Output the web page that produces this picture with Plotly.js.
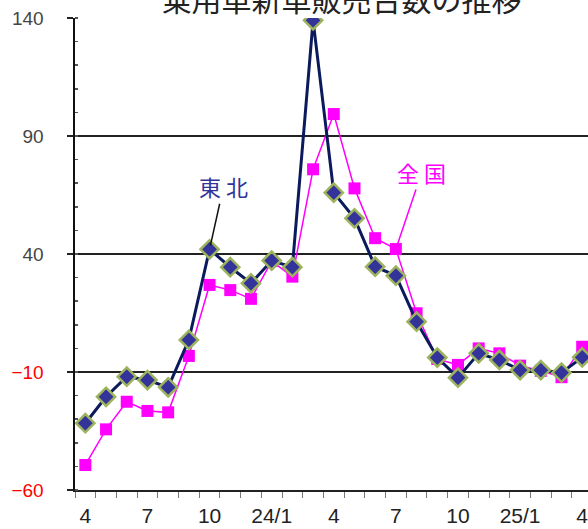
<!DOCTYPE html>
<html>
<head>
<meta charset="utf-8">
<script src="https://cdn.plot.ly/plotly-3.0.1.min.js"></script>
<style>html,body{margin:0;padding:0;overflow:hidden;background:#fff}</style>
</head>
<body>
<div id="chart" style="width:588px;height:529px"></div>
<script>
// Months from 2023/4 to 2025/4 (year-over-year change, %)
const categories = ['23/4','23/5','23/6','23/7','23/8','23/9','23/10','23/11','23/12','24/1','24/2','24/3','24/4','24/5','24/6','24/7','24/8','24/9','24/10','24/11','24/12','25/1','25/2','25/3','25/4'];
const tohoku  = [-31.7, -20.5, -12, -13.4, -16.5, 3.6, 42, 34.4, 27.6, 37.2, 34.4, 139, 66, 55.1, 34.6, 30.8, 11.3, -3.9, -12.4, -2.1, -4.9, -9.2, -9.2, -10.3, -3.8];
const zenkoku = [-49.4, -34.3, -22.6, -26.5, -27.1, -3.2, 26.9, 24.7, 21, 37, 30.4, 75.9, 99.3, 67.8, 46.7, 42.1, 14.9, -4.5, -7, 0, -2.1, -7.3, -9.5, -12.2, 0.7];
const xTickIdx = [0, 3, 6, 9, 12, 15, 18, 21, 24];
const xTickLabels = ['4', '7', '10', '24/1', '4', '7', '10', '25/1', '4'];
const yTickVals = [140, 90, 40, -10, -60];
const yTickLabels = ['140', '90', '40', '<span style="color:#ff0000">−10</span>', '<span style="color:#ff0000">−60</span>'];

const xIdx = categories.map((c, i) => i);

const traces = [
  {
    x: xIdx, y: zenkoku, name: '全国', type: 'scatter', mode: 'lines+markers',
    line: {color: '#ff00ff', width: 1.5},
    marker: {symbol: 'square', size: 12, color: '#ff00ff'},
    text: categories, hoverinfo: 'text+y'
  },
  {
    x: xIdx, y: tohoku, name: '東北', type: 'scatter', mode: 'lines+markers',
    line: {color: '#0a1a5c', width: 3},
    marker: {symbol: 'diamond', size: 14, color: '#333399', line: {color: '#9db35e', width: 2.5}},
    text: categories, hoverinfo: 'text+y'
  }
];

const layout = {
  width: 588, height: 529,
  margin: {l: 75, r: 0, t: 18, b: 39},
  paper_bgcolor: '#fff', plot_bgcolor: '#fff',
  showlegend: false,
  title: {
    text: '乗用車新車販売台数の推移',
    font: {family: 'Noto Sans CJK JP', size: 30, color: '#222'},
    x: 0.581, xanchor: 'center', y: 1, yref: 'container', yanchor: 'middle'
  },
  xaxis: {
    range: [-0.5, 24.28],
    tickmode: 'array', tickvals: xTickIdx, ticktext: xTickLabels,
    ticks: '', showgrid: false, zeroline: false,
    showline: true, linecolor: '#222', linewidth: 2,
    tickfont: {family: 'Liberation Sans, Arial, sans-serif', size: 21, color: '#222'},
    ticklabelstandoff: 6, ticklabeloverflow: 'allow',
    minor: {tick0: 0.5, dtick: 1, ticks: 'outside', ticklen: 6, tickcolor: '#777', tickwidth: 1, showgrid: false}
  },
  yaxis: {
    range: [-60, 140],
    tickmode: 'array', tickvals: yTickVals, ticktext: yTickLabels,
    ticks: 'outside', ticklen: 6, tickcolor: '#222', tickwidth: 1.5,
    showgrid: true, gridcolor: '#222', gridwidth: 1.5,
    zeroline: false, showline: true, linecolor: '#111', linewidth: 2.5,
    tickfont: {family: 'Liberation Sans, Arial, sans-serif', size: 19, color: '#444'},
    ticklabelstandoff: 19,
    minor: {tick0: 0, dtick: 10, ticks: 'inside', ticklen: 3, tickcolor: '#555', showgrid: false}
  },
  annotations: [
    {
      x: 6, y: tohoku[6], xref: 'x', yref: 'y',
      text: '東 北', font: {family: 'Noto Sans CJK JP', size: 22, color: '#333399'},
      showarrow: true, arrowhead: 0, arrowwidth: 1.5, arrowcolor: '#111',
      ax: 14, ay: -63, standoff: 4
    },
    {
      x: 15, y: zenkoku[15], xref: 'x', yref: 'y',
      text: '全 国', font: {family: 'Noto Sans CJK JP', size: 22, color: '#ff00ff'},
      showarrow: true, arrowhead: 0, arrowwidth: 1.5, arrowcolor: '#ff00ff',
      ax: 26, ay: -77, standoff: 3
    }
  ]
};

Plotly.newPlot('chart', traces, layout, {displayModeBar: false, staticPlot: true});
</script>
</body>
</html>
